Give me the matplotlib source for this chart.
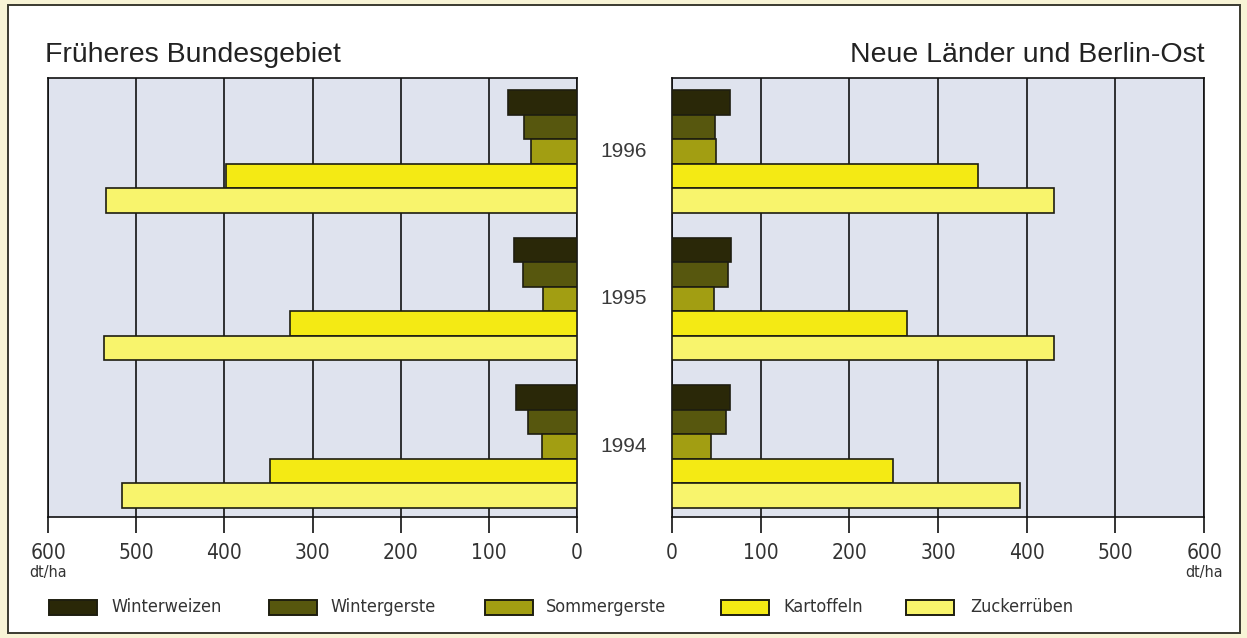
import matplotlib
matplotlib.use("Agg")
import matplotlib.pyplot as plt
from matplotlib.patches import Rectangle
import matplotlib.transforms as mtransforms
import numpy as np

# ---------------- data ----------------
years = ["1994", "1995", "1996"]
crops = ["Winterweizen", "Wintergerste", "Sommergerste", "Kartoffeln", "Zuckerrüben"]

# Früheres Bundesgebiet (dt/ha), order 1994, 1995, 1996
west_winterweizen = [69, 71, 78]
west_wintergerste = [56, 61, 60]
west_sommergerste = [40, 39, 52]
west_kartoffeln = [348, 325, 398]
west_zuckerrueben = [516, 536, 534]

# Neue Länder und Berlin-Ost (dt/ha)
east_winterweizen = [65, 67, 65]
east_wintergerste = [61, 63, 48]
east_sommergerste = [44, 47, 50]
east_kartoffeln = [249, 265, 345]
east_zuckerrueben = [392, 431, 431]

xticks = [0, 100, 200, 300, 400, 500, 600]
titles = ["Früheres Bundesgebiet", "Neue Länder und Berlin-Ost"]
unit = "dt/ha"

west = [west_winterweizen, west_wintergerste, west_sommergerste, west_kartoffeln, west_zuckerrueben]
east = [east_winterweizen, east_wintergerste, east_sommergerste, east_kartoffeln, east_zuckerrueben]

# ---------------- style ----------------
colors = ["#2a2808", "#57570e", "#a29e12", "#f4ea14", "#f8f46c"]
bg = "#dfe3ee"
edge = "#1e1e10"
txt = "#333333"
NARROW = dict(fontfamily=["DejaVu Sans"], fontstretch="condensed")
REG = ["Liberation Sans", "DejaVu Sans"]

W, H = 1247, 638
fig = plt.figure(figsize=(W / 100, H / 100), dpi=100)
fig.patch.set_facecolor("#f8f4d6")
fig.patches.append(Rectangle((8 / W, 5 / H), (1240 - 8) / W, (633 - 5) / H,
                             transform=fig.transFigure, facecolor="white",
                             edgecolor="#3a3a30", linewidth=1.4, zorder=-10))

bottom_px, top_px = 517, 78
ax_b = (H - bottom_px) / H
ax_h = (bottom_px - top_px) / H
axL = fig.add_axes([48 / W, ax_b, (577 - 48) / W, ax_h])
axR = fig.add_axes([672 / W, ax_b, (1204 - 672) / W, ax_h])

n_years = len(years)
centers = np.arange(n_years) * 6.0
bar_h = 1.0

for ax, data in ((axL, west), (axR, east)):
    ax.set_facecolor(bg)
    for k, (vals, col) in enumerate(zip(data, colors)):
        ypos = centers + 2 - k
        ax.barh(ypos, vals, height=bar_h, color=col, edgecolor=edge,
                linewidth=1.2, zorder=3, label=crops[k])
    ax.set_xlim(0, 600)
    ax.set_ylim(-2.87, 14.99)
    ax.set_yticks([])
    ax.set_xticks(xticks)
    ax.set_xticklabels([str(t) for t in xticks], fontsize=15, color=txt, **NARROW)
    ax.tick_params(axis="x", direction="out", length=11.5, width=1.2, color="#111111", pad=7)
    ax.tick_params(axis="y", length=0)
    ax.grid(axis="x", color="#111111", linewidth=1.2, zorder=1)
    ax.set_axisbelow(True)
    for s in ax.spines.values():
        s.set_color("#111111")
        s.set_linewidth(1.2)

axL.invert_xaxis()

# unit labels under the 600 ticks
fig.text(48 / W, (H - 572) / H, unit, ha="center", va="center",
         fontsize=11.5, color=txt, **NARROW)
fig.text(1204 / W, (H - 572) / H, unit, ha="center", va="center",
         fontsize=11.5, color=txt, **NARROW)

# panel titles
fig.text(45 / W, (H - 55) / H, titles[0], ha="left", va="center",
         fontfamily=REG, fontsize=20.5, color="#222222")
fig.text(1205 / W, (H - 55) / H, titles[1], ha="right", va="center",
         fontfamily=REG, fontsize=20.5, color="#222222")

# year labels between the panels
trans = mtransforms.blended_transform_factory(fig.transFigure, axL.transData)
for c, y in zip(centers, years):
    axL.text(624 / W, c, y, transform=trans, ha="center", va="center",
             fontfamily=REG, fontsize=15, color="#3a3a3a", clip_on=False)

# legend
patch_x = [49, 269, 485, 721, 906]
text_x = [111, 330, 546, 783, 970]
ly = (H - 607) / H
pw, ph = 48 / W, 15 / H
for px, tx, col, name in zip(patch_x, text_x, colors, crops):
    fig.patches.append(Rectangle((px / W, ly - ph / 2), pw, ph, transform=fig.transFigure,
                                 facecolor=col, edgecolor=edge, linewidth=1.4, zorder=2))
    fig.text(tx / W, ly, name, ha="left", va="center",
             fontsize=13, color=txt, **NARROW)

fig.savefig("out.png", dpi=100, facecolor=fig.get_facecolor())
